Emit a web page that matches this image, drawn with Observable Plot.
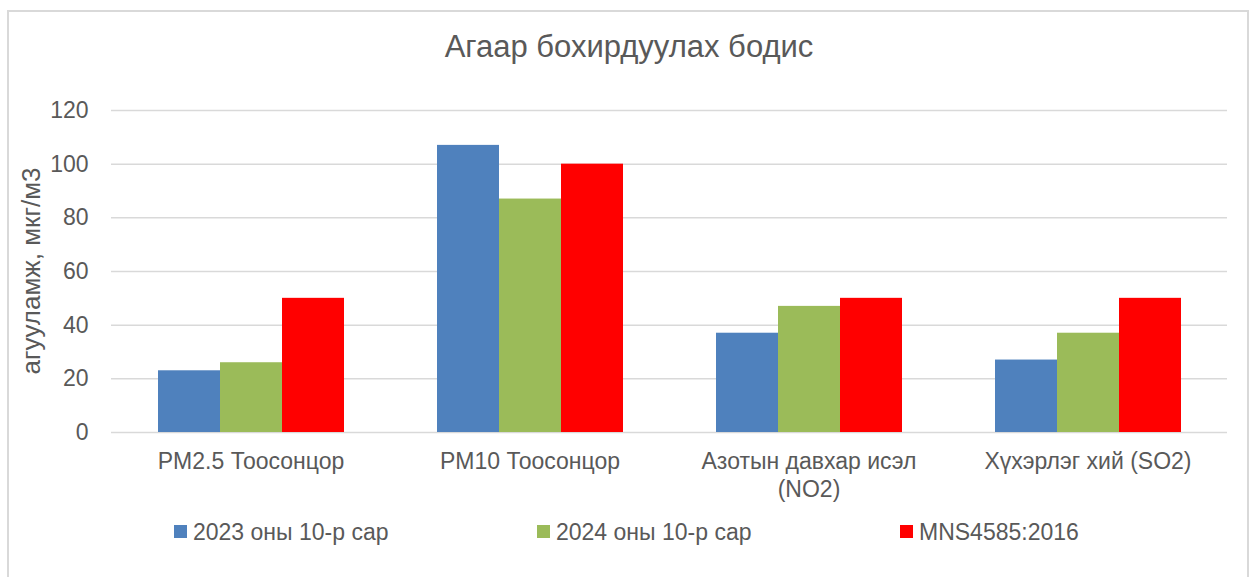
<!DOCTYPE html>
<html>
<head>
<meta charset="utf-8">
<script src="https://cdn.jsdelivr.net/npm/d3@7"></script>
<script src="https://cdn.jsdelivr.net/npm/@observablehq/plot@0.6"></script>
<style>
  html, body { margin: 0; padding: 0; background: #fff; }
  body { width: 1258px; height: 577px; position: relative; overflow: hidden; font-family: "Liberation Sans", Arial, sans-serif; color: #595959; }
  #frame { position: absolute; left: 7px; top: 10px; width: 1242px; height: 600px; border: 2px solid #d9d9d9; box-sizing: border-box; }
  #title { position: absolute; left: 0; width: 1258px; top: 29px; text-align: center; font-size: 31px; line-height: 36px; color: #595959; }
  #chart { position: absolute; left: 0; top: 0; }
  #legend { position: absolute; top: 518px; left: 0; width: 1258px; height: 28px; }
  .item { position: absolute; top: 0; height: 28px; white-space: nowrap; }
  .sw { position: absolute; left: 0; top: 7px; width: 13px; height: 13px; }
  .lt { position: absolute; left: 19px; top: 0; font-size: 23px; line-height: 28px; color: #595959; }
  #ylabel { position: absolute; left: 31px; top: 271px; transform: translate(-50%, -50%) rotate(-90deg); font-size: 26px; white-space: nowrap; color: #595959; }
</style>
</head>
<body>
<div id="frame"></div>
<div id="chart"></div>
<div id="title">Агаар бохирдуулах бодис</div>
<div id="ylabel">агууламж, мкг/м3</div>
<div id="legend"></div>
<script>
const categories = ["PM2.5 Тоосонцор", "PM10 Тоосонцор", "Азотын давхар исэл (NO2)", "Хүхэрлэг хий (SO2)"];
const series = ["2023 оны 10-р сар", "2024 оны 10-р сар", "MNS4585:2016"];
const values2023 = [23, 107, 37, 27];
const values2024 = [26, 87, 47, 37];
const valuesMNS = [50, 100, 50, 50];
const colors = ["#4f81bd", "#9bbb59", "#ff0000"];
const yTicks = [0, 20, 40, 60, 80, 100, 120];

const seriesValues = [values2023, values2024, valuesMNS];
const data = [];
categories.forEach((c, i) => {
  series.forEach((s, j) => data.push({category: c, series: s, value: seriesValues[j][i]}));
});

const wrapLabel = d => d === "Азотын давхар исэл (NO2)" ? "Азотын давхар исэл\n(NO2)" : d;

const chart = Plot.plot({
  width: 1258,
  height: 577,
  marginTop: 110,
  marginBottom: 145,
  marginLeft: 110,
  marginRight: 31,
  style: {fontFamily: "'Liberation Sans', Arial, sans-serif", color: "#595959", background: "transparent"},
  fx: {domain: categories, padding: 0},
  x: {domain: series, paddingInner: 0, paddingOuter: 0.75, axis: null},
  y: {domain: [0, 120]},
  color: {domain: series, range: colors},
  marks: [
    Plot.gridY(yTicks, {stroke: "#d9d9d9", strokeOpacity: 1, strokeWidth: 1.5}),
    Plot.barY(data, {fx: "category", x: "series", y: "value", fill: "series"}),
    Plot.axisY(yTicks, {tickSize: 0, tickPadding: 23, fontSize: 23, label: null, fill: "#595959"}),
    Plot.axisFx({anchor: "bottom", tickSize: 0, tickPadding: 17, fontSize: 23, label: null, tickFormat: wrapLabel, fill: "#595959", lineHeight: 1.2})
  ]
});
document.getElementById("chart").appendChild(chart);

const legendX = [174, 537, 900];
const legend = document.getElementById("legend");
series.forEach((s, i) => {
  const item = document.createElement("div");
  item.className = "item";
  item.style.left = legendX[i] + "px";
  const sw = document.createElement("div");
  sw.className = "sw";
  sw.style.background = colors[i];
  const t = document.createElement("div");
  t.className = "lt";
  t.textContent = s;
  item.appendChild(sw);
  item.appendChild(t);
  legend.appendChild(item);
});
</script>
</body>
</html>
